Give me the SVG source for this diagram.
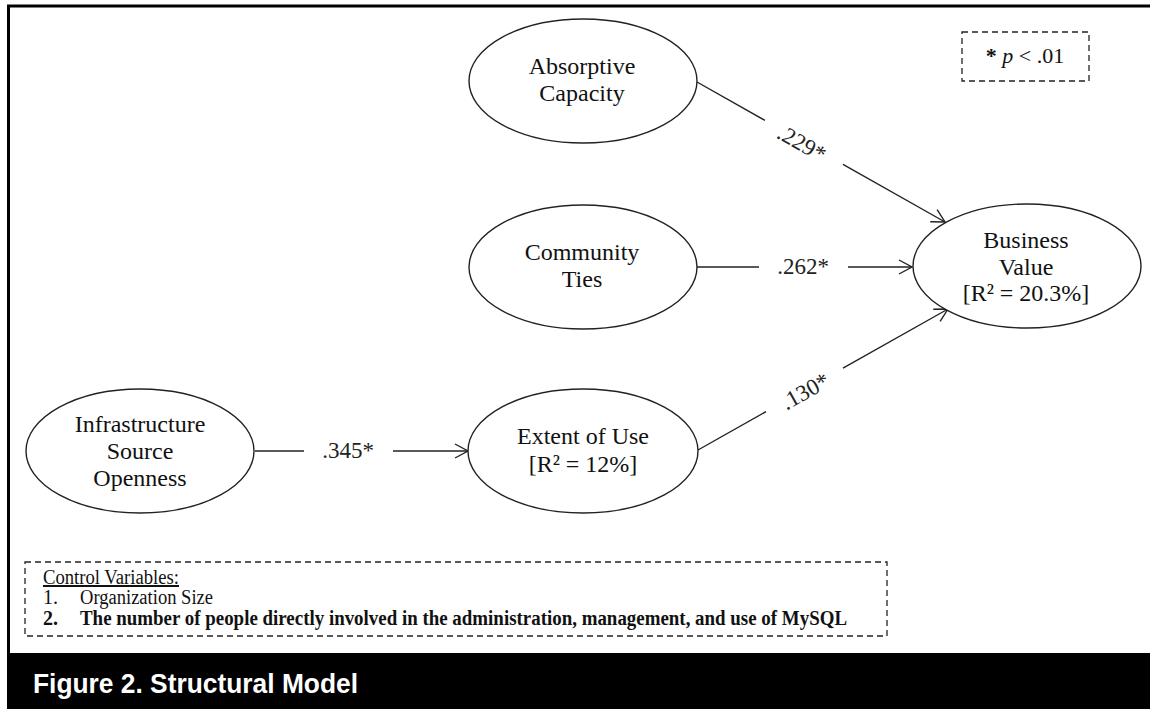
<svg xmlns="http://www.w3.org/2000/svg" width="1150" height="709" viewBox="0 0 1150 709">
<style>
.node ellipse{fill:#fff;stroke:#222;stroke-width:1.4}
.nt{font-family:"Liberation Serif","Times New Roman",serif;font-size:24px;fill:#111;text-anchor:middle}
.lbl{font-family:"Liberation Serif","Times New Roman",serif;font-size:23px;fill:#222;text-anchor:middle}
.conn line{stroke:#222;stroke-width:1.4}
.dash{fill:none;stroke:#222;stroke-width:1.3;stroke-dasharray:6 4}
.cv{font-family:"Liberation Serif","Times New Roman",serif;font-size:20px;fill:#111}
</style>
<defs>
<marker id="arr" viewBox="0 0 16 16" refX="15" refY="8" markerWidth="16" markerHeight="16" markerUnits="userSpaceOnUse" orient="auto">
<path d="M2,1 L15,8 L2,15" fill="none" stroke="#222" stroke-width="1.4"/>
</marker>
</defs>
<rect x="0" y="0" width="1150" height="709" fill="#fff"/>
<path d="M8.5,653 L8.5,6 L1150,6" fill="none" stroke="#000" stroke-width="3"/>
<rect x="7" y="653" width="1143" height="56" fill="#000"/>
<text x="33" y="693" font-family="'Liberation Sans',Arial,sans-serif" font-weight="bold" font-size="27" fill="#fff" textLength="325" lengthAdjust="spacingAndGlyphs">Figure 2. Structural Model</text>

<g id="conn" class="conn">
<line x1="697" y1="82" x2="765" y2="120.4"/>
<line x1="843" y1="164.4" x2="945" y2="222" marker-end="url(#arr)"/>
<line x1="697" y1="267" x2="759" y2="267"/>
<line x1="848" y1="267" x2="912" y2="267" marker-end="url(#arr)"/>
<line x1="698" y1="450" x2="766" y2="411.6"/>
<line x1="843" y1="368.2" x2="948" y2="309" marker-end="url(#arr)"/>
<line x1="255" y1="451" x2="304" y2="451"/>
<line x1="393" y1="451" x2="468" y2="451" marker-end="url(#arr)"/>
<text class="lbl" transform="translate(802,143) rotate(29.7)" x="0" y="8">.229*</text>
<text class="lbl" x="803" y="274">.262*</text>
<text class="lbl" transform="translate(805,391) rotate(-29.4)" x="0" y="8">.130*</text>
<text class="lbl" x="348" y="458">.345*</text>
</g>

<g id="absorptive" class="node">
<ellipse cx="583" cy="81" rx="114" ry="62"/>
<text class="nt" x="582" y="74">Absorptive</text>
<text class="nt" x="582" y="101">Capacity</text>
</g>
<g id="community" class="node">
<ellipse cx="583" cy="267" rx="114" ry="62"/>
<text class="nt" x="582" y="260">Community</text>
<text class="nt" x="582" y="287">Ties</text>
</g>
<g id="business" class="node">
<ellipse cx="1027" cy="266" rx="114" ry="62"/>
<text class="nt" x="1026" y="248">Business</text>
<text class="nt" x="1026" y="275">Value</text>
<text class="nt" x="1026" y="301">[R² = 20.3%]</text>
</g>
<g id="infrastructure" class="node">
<ellipse cx="140" cy="451" rx="114" ry="62"/>
<text class="nt" x="140" y="432">Infrastructure</text>
<text class="nt" x="140" y="459">Source</text>
<text class="nt" x="140" y="486">Openness</text>
</g>
<g id="extent" class="node">
<ellipse cx="583" cy="451" rx="115" ry="62"/>
<text class="nt" x="583" y="444">Extent of Use</text>
<text class="nt" x="583" y="472">[R² = 12%]</text>
</g>

<g id="pvalue">
<rect class="dash" x="962" y="32" width="127" height="49"/>
<text x="1025" y="63" font-family="'Liberation Serif','Times New Roman',serif" font-size="22" fill="#111" text-anchor="middle"><tspan font-weight="bold">*</tspan> <tspan font-style="italic">p</tspan> &lt; .01</text>
</g>

<g id="controls">
<rect class="dash" x="25" y="562" width="862" height="74"/>
<text class="cv" x="43" y="584" text-decoration="underline" textLength="136" lengthAdjust="spacingAndGlyphs">Control Variables:</text>
<text class="cv" x="43" y="604">1.</text>
<text class="cv" x="80" y="604" textLength="133" lengthAdjust="spacingAndGlyphs">Organization Size</text>
<text class="cv" x="43" y="625" font-weight="bold">2.</text>
<text class="cv" x="80" y="625" font-weight="bold" textLength="767" lengthAdjust="spacingAndGlyphs">The number of people directly involved in the administration, management, and use of MySQL</text>
</g>
</svg>
